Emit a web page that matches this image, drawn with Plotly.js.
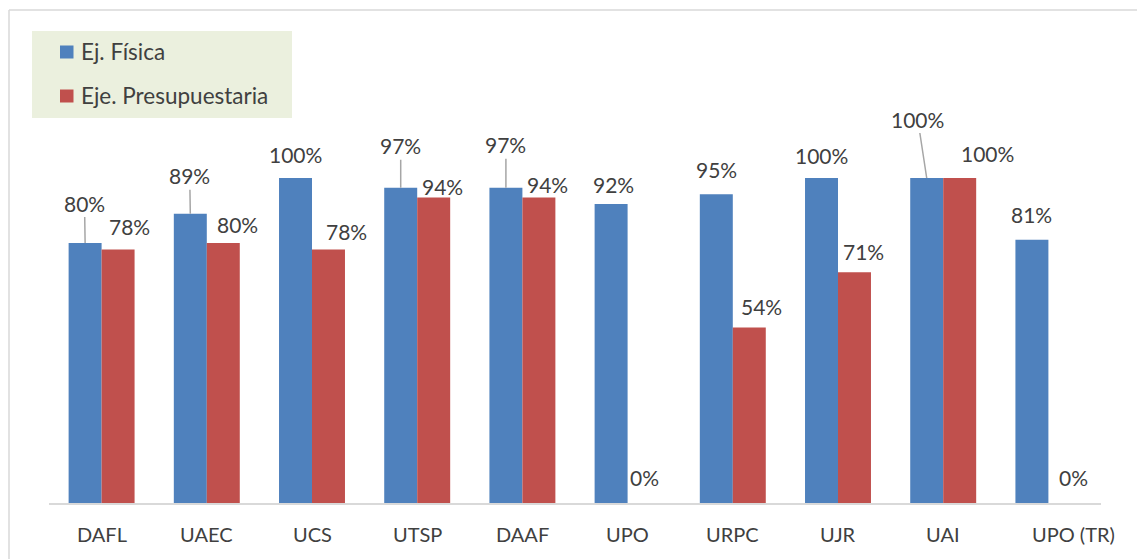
<!DOCTYPE html>
<html>
<head>
<meta charset="utf-8">
<script src="https://cdn.plot.ly/plotly-3.0.1.min.js"></script>
<style>
  html, body { margin: 0; padding: 0; background: #fff; }
  #chart { width: 1137px; height: 559px; }
</style>
</head>
<body>
<div id="chart"></div>
<script>
// ---- Data ----
var categories = ["DAFL", "UAEC", "UCS", "UTSP", "DAAF", "UPO", "URPC", "UJR", "UAI", "UPO (TR)"];
var seriesNames = ["Ej. Física", "Eje. Presupuestaria"];
var ejFisica = [0.80, 0.89, 1.00, 0.97, 0.97, 0.92, 0.95, 1.00, 1.00, 0.81];
var ejePresupuestaria = [0.78, 0.80, 0.78, 0.94, 0.94, 0.00, 0.54, 0.71, 1.00, 0.00];

// ---- Styling / layout constants ----
var W = 1137, H = 559;
var M = {l: 49, r: 36, t: 113, b: 56};
var plotW = W - M.l - M.r, plotH = H - M.t - M.b;
var colors = ["#4F81BD", "#C0504D"];
var textColor = "#404040";
var fontFam = "Lato, 'Open Sans', sans-serif";
var fontSize = 21;
var bargap = 0.373;
var barW = (1 - bargap) / 2;

// label offsets (pixels) from bar top center, and leader-line flags
var blueOff = [[-0.6,-40,1],[-0.6,-38,1],[0,-24,0],[0,-42,1],[0,-43,1],[2,-20,0],[0,-25,0],[0,-23,0],[-9,-59,1],[0,-25,0]];
var redOff  = [[11.6,-23,0],[14.7,-18.5,0],[17.8,-18,0],[9,-11.5,0],[8.4,-13.5,0],[0,-25.5,0],[12.2,-21.5,0],[9.2,-21,0],[27.6,-25,0],[9,-25.5,0]];
var catShift = [0,0,0,0,0,0,0,0,0,25];

function px(x) { return (x - M.l) / plotW; }
function py(y) { return (H - M.b - y) / plotH; }
function pct(v) { return Math.round(v * 100) + "%"; }

var idx = categories.map(function(_, i){ return i; });

var traces = [
  {type: "bar", name: seriesNames[0], x: idx, y: ejFisica, marker: {color: colors[0]}, hoverinfo: "skip"},
  {type: "bar", name: seriesNames[1], x: idx, y: ejePresupuestaria, marker: {color: colors[1]}, hoverinfo: "skip"}
];

var annotations = [];
function addLabels(vals, off, dir) {
  vals.forEach(function(v, i) {
    var o = off[i];
    var a = {
      x: i + dir * barW / 2, y: v, xref: "x", yref: "y",
      text: pct(v),
      font: {family: fontFam, size: fontSize, color: textColor},
      xanchor: "center", yanchor: "middle"
    };
    if (o[2]) {
      a.showarrow = true; a.arrowhead = 0; a.arrowwidth = 1.5; a.arrowcolor = "#A6A6A6";
      a.ax = o[0]; a.ay = o[1]; a.standoff = 0;
    } else {
      a.showarrow = false; a.xshift = o[0]; a.yshift = -o[1];
    }
    annotations.push(a);
  });
}
addLabels(ejFisica, blueOff, -1);
addLabels(ejePresupuestaria, redOff, 1);

categories.forEach(function(c, i) {
  annotations.push({
    x: i, y: 0, xref: "x", yref: "y", text: c, showarrow: false,
    xanchor: "center", yanchor: "middle", xshift: catShift[i], yshift: -31,
    font: {family: fontFam, size: fontSize - 1, color: textColor}
  });
});

// legend (drawn manually)
var legendRows = [52, 96];
seriesNames.forEach(function(n, k) {
  annotations.push({
    x: px(79), y: py(legendRows[k]), xref: "paper", yref: "paper", text: n, showarrow: false,
    xanchor: "left", yanchor: "middle",
    font: {family: fontFam, size: 22.5, color: textColor}
  });
});

var shapes = [
  // chart frame
  {type: "line", xref: "paper", yref: "paper", x0: px(9), x1: px(W + 5), y0: py(10), y1: py(10), line: {color: "#D9D9D9", width: 1.5}},
  {type: "line", xref: "paper", yref: "paper", x0: px(9), x1: px(9), y0: py(10), y1: py(H + 5), line: {color: "#D9D9D9", width: 1.5}},
  // legend box
  {type: "rect", xref: "paper", yref: "paper", x0: px(32), x1: px(292), y0: py(31), y1: py(118), fillcolor: "#EBF0DE", line: {width: 0}, layer: "below"}
];
legendRows.forEach(function(r, k) {
  shapes.push({type: "rect", xref: "paper", yref: "paper", x0: px(60), x1: px(73.5), y0: py(r - 6.5), y1: py(r + 6.5), fillcolor: colors[k], line: {width: 0}});
});

var layout = {
  width: W, height: H,
  margin: M,
  paper_bgcolor: "#FFFFFF", plot_bgcolor: "#FFFFFF",
  barmode: "group", bargap: bargap, bargroupgap: 0,
  showlegend: false,
  xaxis: {
    type: "linear", range: [-0.5, categories.length - 0.5],
    showgrid: false, zeroline: false, showticklabels: false, ticks: "",
    showline: true, linecolor: "#D9D9D9", linewidth: 2, fixedrange: true
  },
  yaxis: {
    range: [0, 1.2], showgrid: false, zeroline: false, showticklabels: false,
    ticks: "", showline: false, fixedrange: true
  },
  annotations: annotations,
  shapes: shapes,
  font: {family: fontFam, color: textColor}
};

Plotly.newPlot("chart", traces, layout, {staticPlot: true, displayModeBar: false});
</script>
</body>
</html>
